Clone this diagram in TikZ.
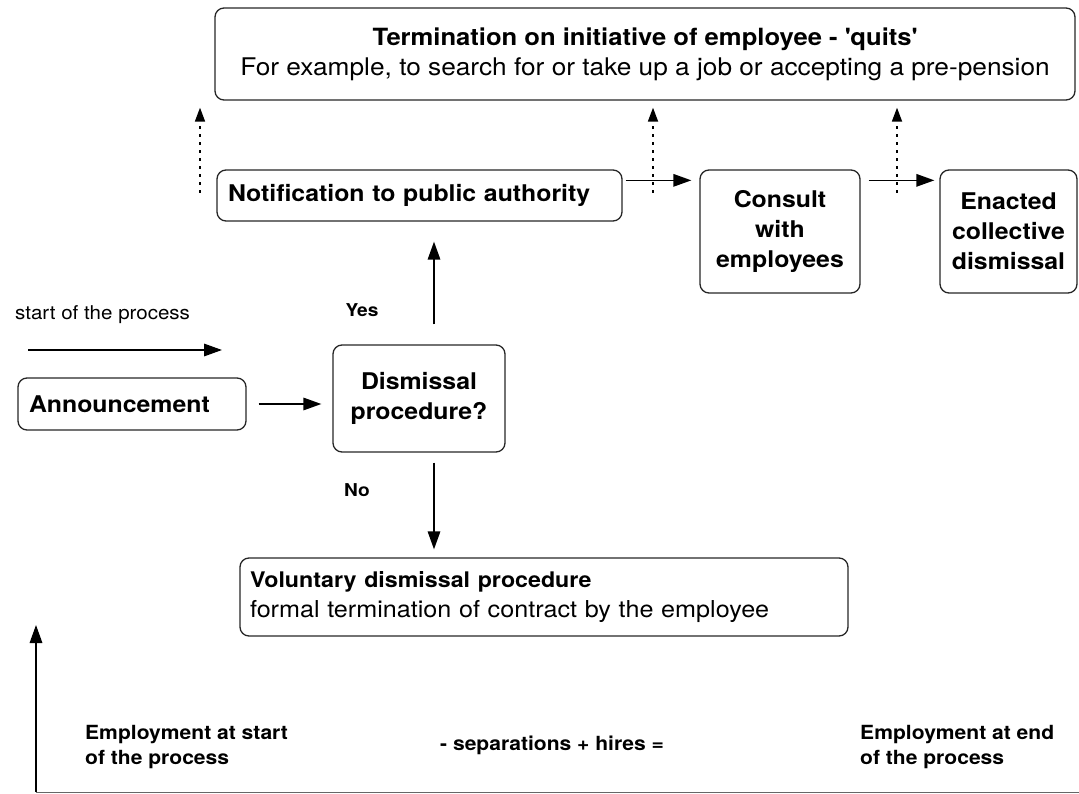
\documentclass[tikz,border=0pt]{standalone}
\usepackage{fontspec}
\setmainfont[FakeStretch=1.08]{TeX Gyre Heros}
\usetikzlibrary{arrows.meta, positioning}
\newcommand{\boxfont}{\fontsize{23}{30}\selectfont\bfseries}
\newcommand{\labfont}{\fontsize{17.7}{24}\selectfont\bfseries}
\newcommand{\notefont}{\fontsize{19.5}{25}\selectfont\bfseries}
\newcommand{\q}{\textquotesingle}
\tikzset{
  stepbox/.style={
    rectangle, draw=black!85, line width=1.3pt,
    rounded corners=9pt, align=center, inner sep=0pt, font=\boxfont},
  arr/.style={-{Triangle[length=18pt,width=12.5pt]}, line width=1.6pt},
  dotarr/.style={-{Triangle[length=14pt,width=10pt]}, line width=1.7pt,
    dash pattern=on 3pt off 5pt},
  lbl/.style={font=\labfont, inner sep=0pt},
  note/.style={font=\notefont, inner sep=0pt, align=left, anchor=west},
}

\begin{document}
\begin{tikzpicture}[x=1pt, y=-1pt]
  \useasboundingbox (0,0) rectangle (1079,794);
  % boxes
  \node[stepbox, minimum width=860pt, minimum height=92pt] (quits) at (645,54)
    {{\fontsize{23.7}{31}\selectfont Termination on initiative of employee - \q quits\q}\\
     {\fontsize{24.3}{31}\selectfont\mdseries For example, to search for or take up a job or accepting a pre-pension}};
  \node[stepbox, text width=383pt, inner xsep=11pt, minimum height=51pt,
        align=left] (notify) at (419.5,195.5) {Notification to public authority};
  \node[stepbox, minimum width=160pt, minimum height=123pt] (consult) at (780,231.5)
    {Consult\\with\\employees};
  \node[stepbox, minimum width=137pt, minimum height=123pt] (enacted) at (1008.5,231.5)
    {Enacted\\collective\\dismissal};
  \node[stepbox, text width=206pt, inner xsep=11pt, minimum height=52pt,
        align=left] (announce) at (132,404) {Announcement};
  \node[stepbox, minimum width=172pt, minimum height=107pt] (dismiss) at (419,398.5)
    {Dismissal\\procedure?};
  \node[stepbox, text width=588pt, inner xsep=10pt, minimum height=78pt,
        align=left] (voluntary) at (544,597)
    {{\fontsize{21.5}{30}\selectfont Voluntary dismissal procedure}\\
     {\fontsize{23.3}{30}\selectfont\mdseries formal termination of contract by the employee}};

  % free ends
  \coordinate (s0) at (28,350);
  \coordinate (s1) at (222,350);
  \coordinate (d1) at (200,193);
  \coordinate (d2) at (653,193);
  \coordinate (d3) at (897,193);
  \coordinate (base) at (36,792);
  \coordinate (baseTop) at (36,625);
  \coordinate (baseEnd) at (1079,792);

  % flow
  \draw[arr, shorten <=12pt, shorten >=11pt] (announce) -- (announce -| dismiss.west);
  \draw[arr, shorten <=20pt, shorten >=20pt]
    ([xshift=15pt]dismiss.north) -- ([xshift=15pt]dismiss.north |- notify.south);
  \draw[arr, shorten <=10pt, shorten >=8pt]
    ([xshift=15pt]dismiss.south) -- ([xshift=15pt]dismiss.south |- voluntary.north);
  \draw[arr, shorten <=3pt, shorten >=8pt]
    ([yshift=-11pt]notify.north east) -- ([yshift=-11pt]consult.north west);
  \draw[arr, shorten <=8pt, shorten >=5pt]
    ([yshift=-11pt]consult.north east) -- ([yshift=-11pt]enacted.north west);
  \draw[arr] (s0) -- (s1);

  % quits
  \foreach \d in {d1,d2,d3}
    \draw[dotarr, shorten >=7pt] (\d) -- (\d |- quits.south);

  \node[lbl] (yes) at (362,310) {Yes};
  \node[lbl] (no) at (357,490) {No};
  \node[font=\fontsize{19}{24}\selectfont, inner sep=0pt, anchor=west]
    (start) at (15,315) {start of the process};

  % employment balance
  \draw[arr] (base) -- (baseTop);
  \draw[black!60, line width=1pt] (base) -- (baseEnd);
  \node[note] (empstart) at (85,747) {Employment at start\\of the process};
  \node[note] (flows) at (440,745) {- separations + hires =};
  \node[note] (empend) at (860,747) {Employment at end\\of the process};
\end{tikzpicture}
\end{document}
